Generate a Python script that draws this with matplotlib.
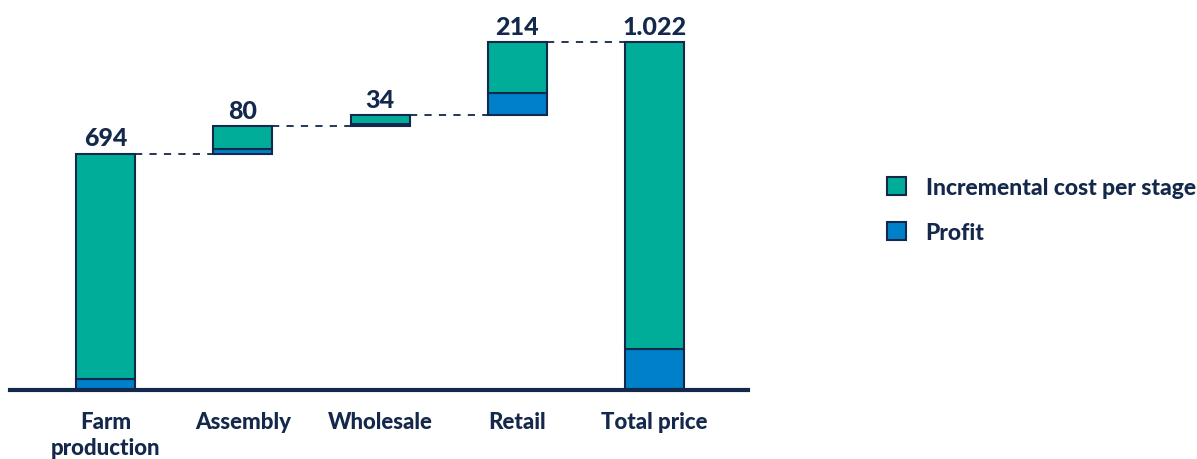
import matplotlib.pyplot as plt
from matplotlib.patches import Patch

# stages of the value chain, cost added at each step
stages = ['Farm\nproduction', 'Assembly', 'Wholesale', 'Retail', 'Total price']
increments = [694, 80, 34, 214]
profits = [33, 15, 7, 65]

teal = '#00ad98'
blue = '#0080c9'
navy = '#13284b'

plt.rcParams['font.family'] = ['Lato', 'DejaVu Sans']
plt.rcParams['font.weight'] = 'black'

total = sum(increments)
fig = plt.figure(figsize=(11.97, 4.60), dpi=100)
ax = fig.add_axes([10 / 1197, 69 / 460, 738 / 1197, 391 / 460])

width = 0.43
bottoms = []
level = 0
for i, inc in enumerate(increments):
    bottoms.append(level)
    level += inc

# one stacked bar per stage: profit at the bottom, remaining cost above
bar_vals = increments + [total]
bar_profit = profits + [sum(profits)]
bar_base = bottoms + [0]
for i in range(len(stages)):
    ax.bar(i, bar_profit[i], width, bottom=bar_base[i], color=blue,
           edgecolor=navy, linewidth=1.5, zorder=3)
    ax.bar(i, bar_vals[i] - bar_profit[i], width, bottom=bar_base[i] + bar_profit[i],
           color=teal, edgecolor=navy, linewidth=1.5, zorder=3)
    label = f"{bar_vals[i]:,}".replace(',', '.')
    ax.annotate(label, (i, bar_base[i] + bar_vals[i]), xytext=(0, 3),
                textcoords='offset points', ha='center', va='bottom',
                fontsize=18, fontweight='black', color=navy)

# dashed connectors between consecutive bar tops
for i in range(len(stages) - 1):
    y = bar_base[i] + bar_vals[i]
    ax.plot([i + width / 2, i + 1 - width / 2], [y, y], color=navy,
            linestyle=(0, (4, 4)), linewidth=1.3, zorder=2)

ax.set_xlim(-0.695, 4.68)
ax.set_ylim(0, 1148)
ax.set_xticks(range(len(stages)))
ax.set_xticklabels(stages, fontsize=16, fontweight='black', color=navy, linespacing=1.3)
ax.tick_params(axis='x', length=0, pad=15)
ax.set_yticks([])
for side in ['top', 'right', 'left']:
    ax.spines[side].set_visible(False)
ax.spines['bottom'].set_linewidth(3)
ax.spines['bottom'].set_color(navy)
ax.spines['bottom'].set_zorder(4)

handles = [Patch(facecolor=teal, edgecolor=navy, linewidth=1.5),
           Patch(facecolor=blue, edgecolor=navy, linewidth=1.5)]
fig.legend(handles, ['Incremental cost per stage', 'Profit'],
           loc='upper left', bbox_to_anchor=(866 / 1197, 1 - 157 / 460),
           frameon=False, handlelength=0.85, handleheight=0.85,
           handletextpad=0.85, labelspacing=1.05, labelcolor=navy,
           prop={'weight': 'black', 'size': 16.5})

fig.savefig('out.png', dpi=100)
